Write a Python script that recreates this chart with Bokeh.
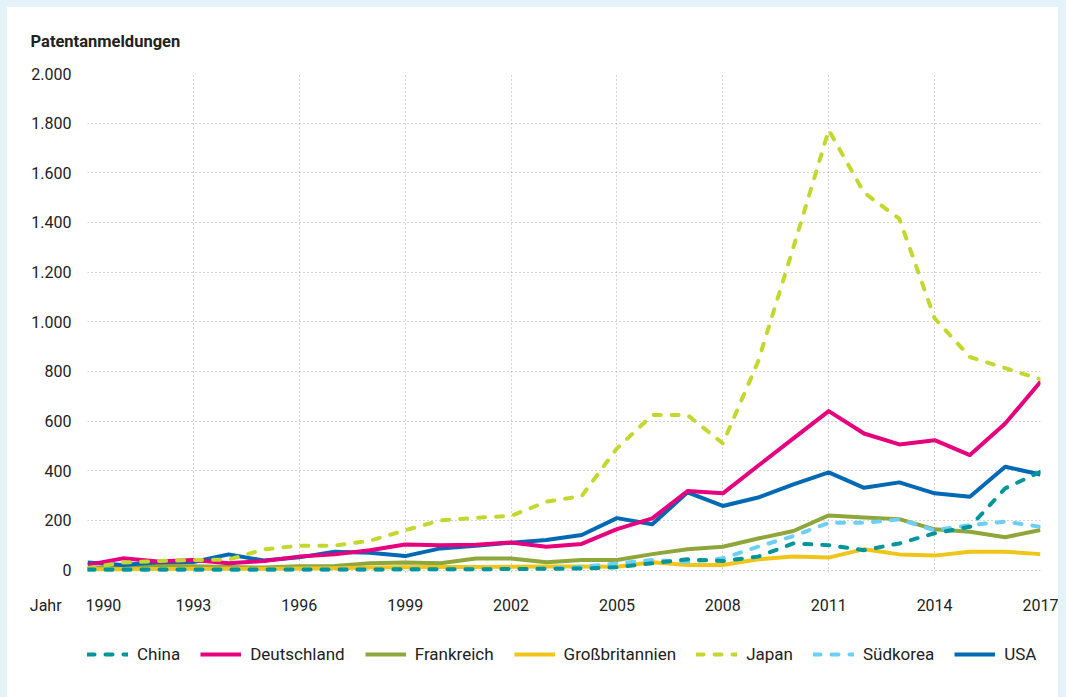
from bokeh.plotting import figure
from bokeh.layouts import column
from bokeh.models import Range1d, FixedTicker, Legend, LegendItem
from bokeh.embed import file_html
from bokeh.resources import INLINE

years = list(range(1990, 2018))

china = [2, 2, 2, 2, 2, 2, 2, 2, 2, 3, 3, 3, 4, 5, 6, 11, 27, 43, 36, 54, 107, 100, 80, 107, 148, 174, 329, 396]
deutschland = [20, 47, 34, 40, 27, 36, 54, 63, 80, 103, 100, 102, 111, 94, 105, 165, 208, 318, 309, 420, 530, 640, 550, 506, 523, 463, 590, 758]
frankreich = [5, 15, 16, 15, 12, 10, 15, 16, 27, 30, 27, 46, 46, 31, 40, 40, 64, 84, 94, 127, 157, 220, 212, 205, 164, 154, 132, 161]
grossbritannien = [3, 3, 4, 5, 5, 5, 6, 7, 10, 11, 12, 12, 13, 14, 14, 13, 31, 20, 20, 43, 54, 50, 84, 63, 58, 74, 74, 64]
japan = [8, 30, 36, 40, 42, 83, 98, 98, 118, 160, 200, 210, 218, 275, 298, 490, 624, 624, 510, 840, 1300, 1772, 1520, 1415, 1014, 858, 813, 768]
suedkorea = [1, 1, 1, 1, 1, 1, 2, 2, 2, 2, 3, 3, 4, 5, 12, 27, 40, 33, 47, 94, 137, 190, 190, 204, 160, 181, 195, 174]
usa = [30, 20, 31, 32, 63, 38, 51, 74, 70, 56, 87, 98, 110, 121, 141, 209, 184, 313, 258, 292, 345, 393, 331, 353, 309, 295, 416, 385]

x_ticks = [1990, 1993, 1996, 1999, 2002, 2005, 2008, 2011, 2014, 2017]
y_ticks = [0, 200, 400, 600, 800, 1000, 1200, 1400, 1600, 1800, 2000]
y_tick_labels = ["0", "200", "400", "600", "800", "1.000", "1.200", "1.400", "1.600", "1.800", "2.000"]

title_text = "Patentanmeldungen"
x_title = "Jahr"

FONT = "Roboto"
TXT = "#222222"
NB = "\u00a0"

p = figure(width=1051, height=630, output_backend="svg", toolbar_location=None,
           x_range=Range1d(1990, 2017), y_range=Range1d(-10, 2000),
           min_border_left=80, min_border_right=18, min_border_top=66, min_border_bottom=65)
p.outline_line_color = None
p.background_fill_color = "white"
p.border_fill_color = "white"

p.title.text = title_text
p.title.align = "left"
p.title.offset = -57
p.title.standoff = 45
p.title.text_font = FONT
p.title.text_font_size = "16.5px"
p.title.text_font_style = "bold"
p.title.text_color = TXT

# axes
for ax in (p.xaxis[0], p.yaxis[0]):
    ax.axis_line_color = None
    ax.major_tick_line_color = None
    ax.minor_tick_line_color = None
    ax.major_label_text_font = FONT
    ax.major_label_text_font_size = "16px"
    ax.major_label_text_color = TXT

p.xaxis[0].ticker = FixedTicker(ticks=x_ticks)
# the axis title "Jahr" sits on the same line as the first year label
p.xaxis[0].major_label_overrides = {1990: x_title + NB * 6 + "1990" + NB * 6}
p.xaxis[0].major_label_standoff = 17
p.yaxis[0].ticker = FixedTicker(ticks=y_ticks)
p.yaxis[0].major_label_overrides = {t: s for t, s in zip(y_ticks, y_tick_labels)}
p.yaxis[0].major_label_standoff = 10

for g in (p.xgrid[0], p.ygrid[0]):
    g.grid_line_color = "#a8a8a8"
    g.grid_line_dash = "1 3"
    g.grid_line_width = 1
p.xgrid[0].ticker = FixedTicker(ticks=x_ticks)
p.ygrid[0].ticker = FixedTicker(ticks=y_ticks)

series = {
    "China": (china, "#00959A", "dashed"),
    "Deutschland": (deutschland, "#E6007E", "solid"),
    "Frankreich": (frankreich, "#8FA63B", "solid"),
    "Großbritannien": (grossbritannien, "#F0C419", "solid"),
    "Japan": (japan, "#C3D82E", "dashed"),
    "Südkorea": (suedkorea, "#6DCFF6", "dashed"),
    "USA": (usa, "#0069B4", "solid"),
}

def line_style(col, style):
    d = dict(line_color=col, line_width=4, line_join="round")
    if style == "dashed":
        d.update(line_dash="7 11", line_cap="round")
    return d

draw_order = ["Frankreich", "Großbritannien", "USA", "Deutschland", "Südkorea", "Japan", "China"]
for name in draw_order:
    vals, col, style = series[name]
    p.line(years, vals, **line_style(col, style))

# legend strip below the chart (its series lie outside this strip's visible range)
p2 = figure(width=1051, height=60, output_backend="svg", toolbar_location=None,
            x_range=Range1d(0, 1), y_range=Range1d(0, 1),
            min_border_left=80, min_border_right=18, min_border_top=0, min_border_bottom=0)
p2.axis.visible = False
p2.grid.visible = False
p2.outline_line_color = None
p2.border_fill_color = "white"
p2.background_fill_color = "white"
p2.background_fill_alpha = 0

items = []
for name, (vals, col, style) in series.items():
    r = p2.line(years, vals, **line_style(col, style))
    items.append(LegendItem(label=name, renderers=[r]))

legend = Legend(items=items, orientation="horizontal", location=(0, 33),
                glyph_width=41, glyph_height=20, label_height=20, label_standoff=9, spacing=20,
                padding=0, margin=0, border_line_color=None, background_fill_alpha=0,
                label_text_font=FONT, label_text_font_size="17px", label_text_color=TXT)
p2.add_layout(legend, "center")

layout = column(p, p2, spacing=0, styles={"background-color": "white"})

html = file_html(layout, INLINE)
html = html.replace("</head>", "<style>html, body { background-color: #e4f2fa !important; } body { padding: 7px !important; }</style></head>", 1)
open("out.html", "w").write(html)
